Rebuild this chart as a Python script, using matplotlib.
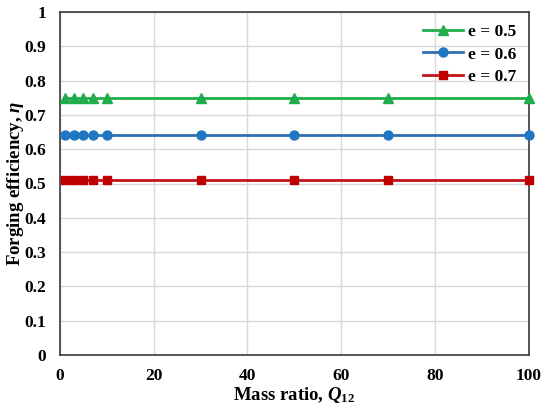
import matplotlib
matplotlib.use("Agg")
import matplotlib.pyplot as plt

# Mass ratio values and forging efficiency for each restitution coefficient
mass_ratio = [1, 3, 5, 7, 10, 30, 50, 70, 100]
eff_e05 = [0.75, 0.75, 0.75, 0.75, 0.75, 0.75, 0.75, 0.75, 0.75]
eff_e06 = [0.64, 0.64, 0.64, 0.64, 0.64, 0.64, 0.64, 0.64, 0.64]
eff_e07 = [0.51, 0.51, 0.51, 0.51, 0.51, 0.51, 0.51, 0.51, 0.51]
series_labels = ["e = 0.5", "e = 0.6", "e = 0.7"]
x_ticks = [0, 20, 40, 60, 80, 100]
y_ticks = [0, 0.1, 0.2, 0.3, 0.4, 0.5, 0.6, 0.7, 0.8, 0.9, 1]
y_tick_labels = ["0", "0.1", "0.2", "0.3", "0.4", "0.5", "0.6", "0.7", "0.8", "0.9", "1"]

plt.rcParams["font.family"] = ["Liberation Serif", "DejaVu Serif"]
plt.rcParams["font.weight"] = "bold"
plt.rcParams["mathtext.fontset"] = "custom"
plt.rcParams["mathtext.rm"] = "Liberation Serif:bold"
plt.rcParams["mathtext.bf"] = "Liberation Serif:bold"
plt.rcParams["mathtext.it"] = "Liberation Serif:italic:bold"

fig = plt.figure(figsize=(5.41, 4.12), dpi=100)
ax = fig.add_axes([60 / 541, 1 - 355 / 412, (528.5 - 60) / 541, (355 - 12) / 412])

ax.plot(mass_ratio, eff_e05, color="#1fae4b", marker="^", markersize=6.5, lw=2,
        label=series_labels[0], clip_on=False, zorder=3)
ax.plot(mass_ratio, eff_e06, color="#2e6fb0", marker="o", markersize=6.5, lw=2,
        label=series_labels[1], clip_on=False, zorder=3,
        markerfacecolor="#1f77c4", markeredgecolor="#1f77c4")
ax.plot(mass_ratio, eff_e07, color="#c0141c", marker="s", markersize=6, lw=2,
        label=series_labels[2], clip_on=False, zorder=3,
        markerfacecolor="#c00000", markeredgecolor="#c00000")

ax.set_xlim(0, 100)
ax.set_ylim(0, 1)
ax.set_xticks(x_ticks)
ax.set_yticks(y_ticks)
ax.set_yticklabels(y_tick_labels)
ax.tick_params(axis="both", length=0, labelsize=12.5)
ax.tick_params(axis="y", pad=10)
ax.tick_params(axis="x", pad=9)
for lab in ax.get_xticklabels() + ax.get_yticklabels():
    lab.set_fontweight("bold")

ax.grid(True, color="#d9d9d9", lw=1)
ax.set_axisbelow(True)
for sp in ax.spines.values():
    sp.set_color("#3a3a3a")
    sp.set_linewidth(1.2)

ax.set_xlabel(r"Mass ratio, $\mathit{Q}_{\mathrm{12}}$", fontsize=13.5,
              fontweight="bold", labelpad=1)
ax.set_ylabel(r"Forging efficiency, $\mathit{\eta}$", fontsize=13.5,
              fontweight="bold")
ax.yaxis.set_label_coords(-0.073, 0.5)

leg = ax.legend(loc="upper right", frameon=False, handlelength=2.3,
                handletextpad=0.3, labelspacing=0.35, borderaxespad=0.3,
                prop={"weight": "bold", "size": 12.5})
leg.set_zorder(5)

fig.savefig("out.png", dpi=100)
